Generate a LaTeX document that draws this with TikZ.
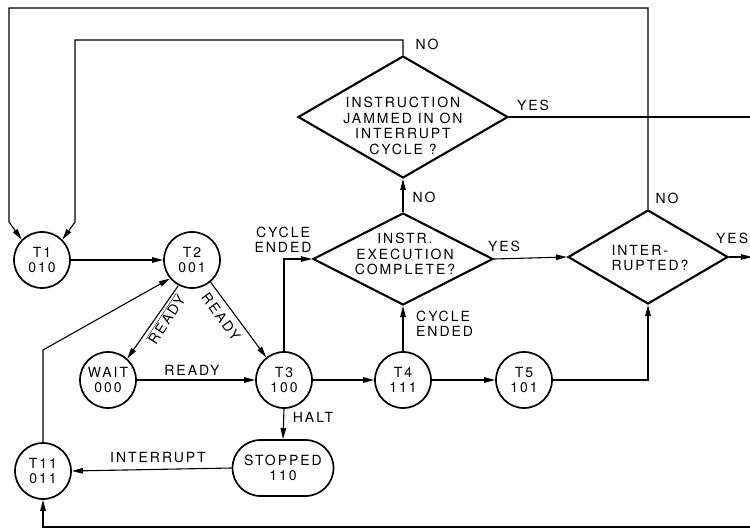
\documentclass[tikz,border=0pt]{standalone}
\usepackage{fontspec}
\setmainfont[LetterSpace=14]{TeX Gyre Heros}
\usetikzlibrary{arrows.meta,shapes.geometric,shapes.misc}
\begin{document}
\begin{tikzpicture}[x=1pt,y=-1pt,
  every node/.style={font=\fontsize{14}{15.5}\selectfont},
  state/.style={circle,draw,line width=1.7pt,minimum size=56pt,inner sep=0pt,align=center},
  stopbox/.style={rounded rectangle,draw,line width=1.7pt,minimum width=101pt,minimum height=56pt,inner sep=0pt,align=center},
  dia/.style={diamond,draw,line width=2.1pt,inner sep=0pt},
  txt/.style={align=center,inner sep=0pt},
  lbl/.style={inner sep=0pt},
  conn/.style={line width=1.1pt},
  arr/.style={conn,-{Triangle[length=11pt,width=5.5pt]}}
]
\useasboundingbox (0,0) rectangle (750,529);
% states
\node[state] (t1) at (42,260) {T1\\010};
\node[state] (t2) at (192,260) {T2\\001};
\node[state] (wait) at (108,380) {WAIT\\000};
\node[state] (t3) at (284,380) {T3\\100};
\node[state] (t4) at (403,380) {T4\\111};
\node[state] (t5) at (524,380) {T5\\101};
\node[state] (t11) at (43,471) {T11\\011};
\node[stopbox] (stop) at (283,468) {STOPPED\\110};
% decisions
\node[dia,minimum width=210pt,minimum height=122pt] (jam) at (403,117) {};
\node[txt] (jamt) at (403,126) {INSTRUCTION\\JAMMED IN ON\\INTERRUPT\\CYCLE ?};
\node[dia,minimum width=180pt,minimum height=92pt] (ins) at (403,259) {};
\node[txt] (inst) at (405,254) {INSTR.\\EXECUTION\\COMPLETE?};
\node[dia,minimum width=160pt,minimum height=94pt] (intr) at (648,257) {};
\node[txt,align=left] (intrt) at (650,258) {INTER-\\RUPTED?};
% connectors
\coordinate (o1) at (648,8);
\coordinate (o2) at (9,8);
\coordinate (o3) at (9,222);
\draw[arr] (intr.north) -- (o1) -- (o2) -- (o3) -- (t1.135);
\coordinate (i1) at (403,40);
\coordinate (i2) at (75,40);
\coordinate (i3) at (75,222);
\draw[arr] (jam.north) -- (i1) -- (i2) -- (i3) -- (t1.45);
\coordinate (jy) at (760,117);
\draw[conn] (jam.east) -- (jy);
\coordinate (iy) at (752,257);
\draw[arr] (intr.east) -- (iy);
\coordinate (b1) at (760,527);
\coordinate (b2) at (43,527);
\draw[arr] (b1) -- (b2) -- (t11.south);
\draw[arr] (t1.east) -- (t2.west);
\draw[arr] (t2.242) -- (wait.48);
\draw[arr] (t2.310) -- (t3.128);
\draw[arr] (wait.east) -- (t3.west);
\draw[arr] (t3.east) -- (t4.west);
\draw[arr] (t4.east) -- (t5.west);
\draw[arr] (t5.east) -| (intr.south);
\draw[arr] (t4.north) -- (ins.south);
\draw[arr] (t3.north) |- (ins.west);
\draw[arr] (ins.east) -- (intr.west);
\draw[arr] (ins.north) -- (jam.south);
\draw[arr] (t3.south) -- (stop.north);
\draw[arr] (stop.west) -- (t11.east);
\coordinate (k1) at (43,350);
\draw[arr] (t11.north) -- (k1) -- (t2.220);
% labels
\node[lbl] (lno1) at (427,44) {NO};
\node[lbl] (lyes1) at (533,105) {YES};
\node[lbl] (lno2) at (424,197) {NO};
\node[lbl] (lno3) at (667,198) {NO};
\node[lbl,anchor=west] (lyes3) at (716,238) {YES};
\node[lbl] (lyes2) at (504,246) {YES};
\node[txt] (lce1) at (283,240) {CYCLE\\ENDED};
\node[txt,align=left,anchor=west] (lce2) at (416,324) {CYCLE\\ENDED};
\node[lbl] (lhalt) at (313,417) {HALT};
\node[lbl] (lint) at (158,458) {INTERRUPT};
\node[lbl] (lrdy1) at (192,370) {READY};
\node[lbl,rotate=56.7] (lrdy2) at (166,319) {$\overline{\mbox{READY}}$};
\node[lbl,rotate=-54] (lrdy3) at (221,317) {READY};
\end{tikzpicture}
\end{document}
